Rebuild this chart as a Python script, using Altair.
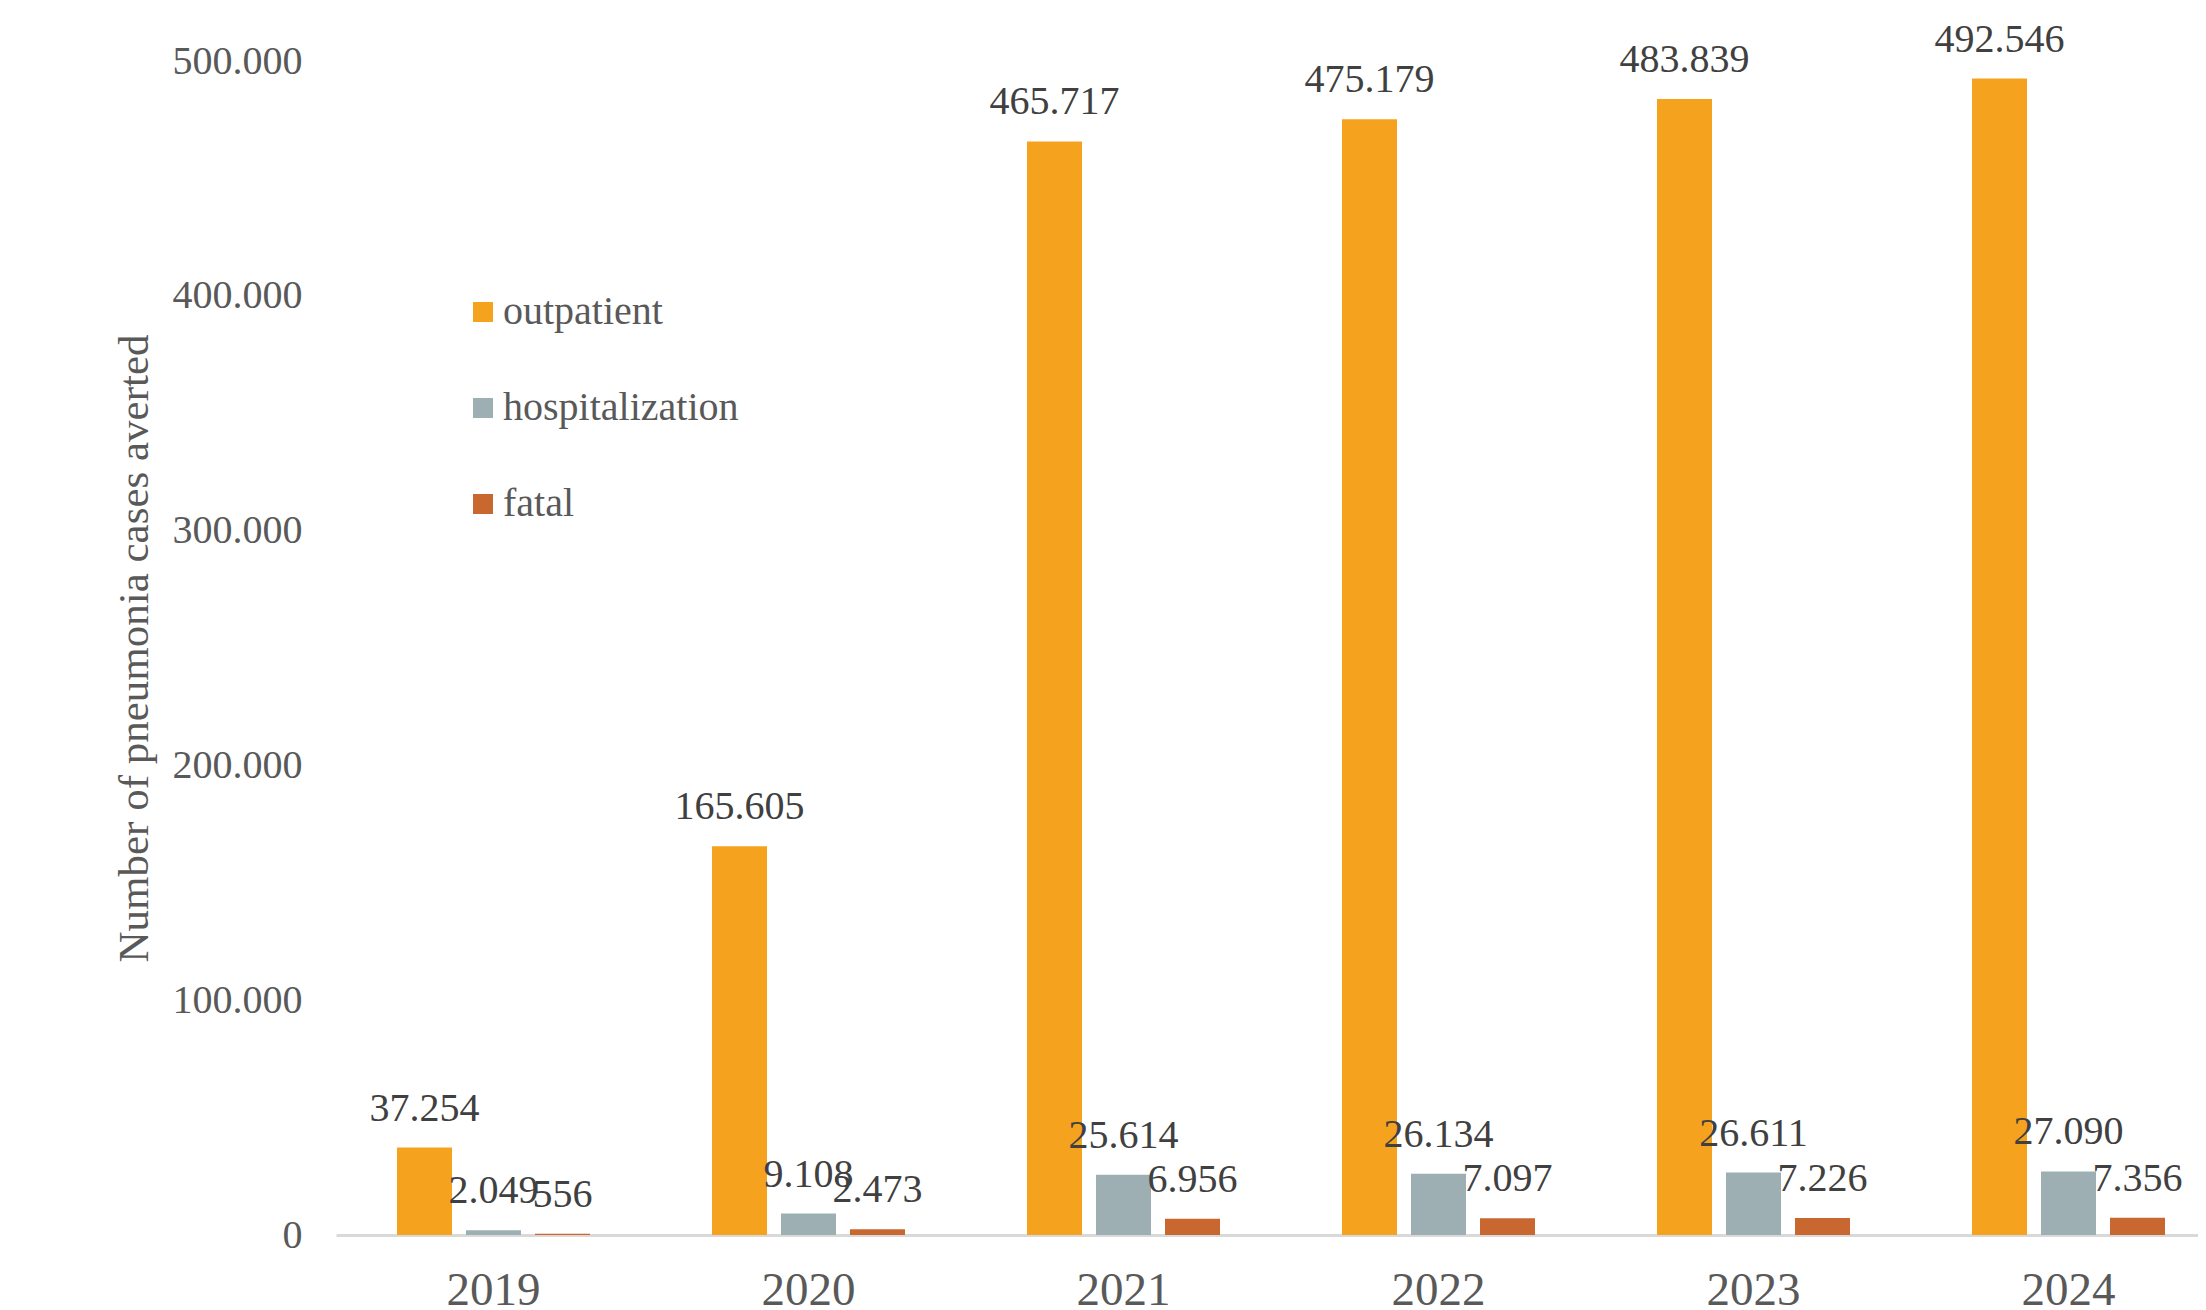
import altair as alt
import pandas as pd

years = ["2019", "2020", "2021", "2022", "2023", "2024"]
series = ["outpatient", "hospitalization", "fatal"]
outpatient = [37254, 165605, 465717, 475179, 483839, 492546]
hospitalization = [2049, 9108, 25614, 26134, 26611, 27090]
fatal = [556, 2473, 6956, 7097, 7226, 7356]
colors = ["#F5A31E", "#9DAFB3", "#C8672F"]
y_ticks = [0, 100000, 200000, 300000, 400000, 500000]

rows = []
for i, yr in enumerate(years):
    for s, vals in zip(series, [outpatient, hospitalization, fatal]):
        rows.append({"year": yr, "series": s, "value": vals[i]})
df = pd.DataFrame(rows)

FONT = "Liberation Serif"
W = 1862
H = 1174

x_enc = alt.X(
    "year:N", sort=years,
    scale=alt.Scale(range=[0, 1890], paddingInner=0, paddingOuter=0),
    axis=alt.Axis(title=None, labelAngle=0, labelFont=FONT, labelFontSize=47,
                  labelColor="#595959", labelPadding=32, ticks=False,
                  domainColor="#d9d9d9", domainWidth=3),
)
xo_enc = alt.XOffset("series:N", sort=series,
                     scale=alt.Scale(paddingInner=0.203, paddingOuter=0.884))
y_enc = alt.Y(
    "value:Q", scale=alt.Scale(domain=[0, 500000]),
    axis=alt.Axis(values=y_ticks,
                  labelExpr="replace(format(datum.value, ','), ',', '.')",
                  grid=False, domain=False, ticks=False, labelFont=FONT,
                  labelFontSize=40, labelColor="#595959", labelPadding=34,
                  title="Number of pneumonia cases averted", titleFont=FONT,
                  titleFontSize=43, titleFontWeight="normal", titleColor="#595959",
                  titleX=-202, titleY=587, titleBaseline="middle", titleAlign="center"),
)

base = alt.Chart(df).encode(x=x_enc, xOffset=xo_enc, y=y_enc)

bars = base.mark_bar().encode(
    color=alt.Color("series:N", sort=series,
                    scale=alt.Scale(domain=series, range=colors),
                    legend=alt.Legend(orient="none", legendX=127, legendY=231,
                                      title=None, symbolType="square",
                                      symbolSize=400, symbolStrokeWidth=0,
                                      labelFont=FONT, labelFontSize=40,
                                      labelColor="#595959", rowPadding=56,
                                      labelOffset=0, labelLimit=0)),
)

labels = base.transform_calculate(
    lbl="replace(format(datum.value, ','), ',', '.')"
).mark_text(dy=-27, baseline="alphabetic", align="center", font=FONT,
            fontSize=40, color="#404040").encode(text="lbl:N")

chart = alt.layer(bars, labels).properties(
    width=W, height=H,
    autosize=alt.AutoSizeParams(type="none"),
    padding={"left": 328, "top": 53, "right": 0, "bottom": 75},
    background="white",
).configure_view(stroke=None, strokeWidth=0)

chart.save("out.html", embed_options={"renderer": "svg", "actions": False})
